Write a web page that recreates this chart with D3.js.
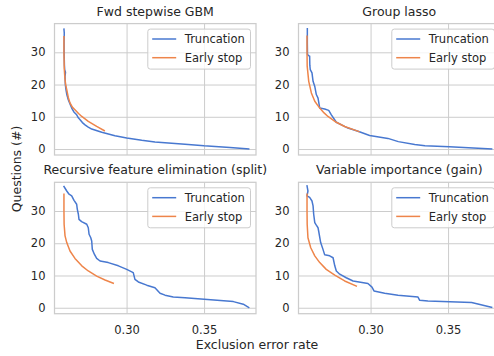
<!DOCTYPE html>
<html>
<head>
<meta charset="utf-8">
<script src="https://cdnjs.cloudflare.com/ajax/libs/d3/7.8.5/d3.min.js"></script>
<style>
body{margin:0;background:#fff;}
text{font-family:"DejaVu Sans",sans-serif;fill:#262626;}
</style>
</head>
<body>
<script>
var width = 494, height = 356;

var titles = ['Fwd stepwise GBM','Group lasso','Recursive feature elimination (split)','Variable importance (gain)'];
var seriesNames = ['Truncation','Early stop'];
var colors = ['#4878d0','#ee854a'];
var xTicks = [0.30,0.35];
var yTicks = [0,10,20,30];
var xDomain = [0.2535,0.3835];
var yDomain = [-1.85,38.9];

// [exclusion error rate, questions]
var gbmTrunc = [[0.2596,37.2],[0.2598,36.0],[0.2597,33.0],[0.2597,30.0],[0.2599,26.0],[0.2601,24.5],[0.2606,23.8],[0.2603,22.5],[0.2605,20.0],[0.2609,18.4],[0.2614,17.0],[0.2624,15.3],[0.2635,14.0],[0.2646,12.7],[0.2660,11.5],[0.2678,10.6],[0.2690,9.6],[0.2700,9.1],[0.2715,8.2],[0.2732,7.5],[0.2750,6.9],[0.2775,6.2],[0.2840,5.2],[0.2925,4.1],[0.3001,3.4],[0.3098,2.7],[0.3183,2.2],[0.3377,1.5],[0.3500,1.0],[0.3667,0.5],[0.3788,0.0]];
var gbmEarly = [[0.2596,34.8],[0.2596,30.0],[0.2598,25.0],[0.2602,22.0],[0.2607,20.0],[0.2614,18.4],[0.2624,16.0],[0.2635,14.3],[0.2650,13.0],[0.2667,12.2],[0.2690,11.0],[0.2711,10.1],[0.2753,8.6],[0.2807,7.0],[0.2856,5.7]];

var lassoTrunc = [[0.2592,37.3],[0.2592,33.0],[0.2593,29.3],[0.2600,29.0],[0.2607,28.8],[0.2608,26.0],[0.2611,24.6],[0.2622,23.6],[0.2629,21.0],[0.2640,19.4],[0.2650,16.9],[0.2661,15.8],[0.2672,12.7],[0.2704,12.4],[0.2730,12.0],[0.2747,10.6],[0.2779,8.3],[0.2854,6.5],[0.2919,5.5],[0.2994,4.2],[0.3112,3.3],[0.3179,2.3],[0.3285,1.4],[0.3351,1.0],[0.3508,0.7],[0.3781,0.0]];
var lassoEarly = [[0.2590,35.0],[0.2590,30.0],[0.2591,25.7],[0.2601,21.0],[0.2618,17.4],[0.2640,14.8],[0.2672,12.7],[0.2700,11.2],[0.2725,10.1],[0.2779,8.3],[0.2833,7.0],[0.2908,5.7],[0.2925,5.4]];

var rfeTrunc = [[0.2596,37.6],[0.2614,36.2],[0.2629,35.2],[0.2646,34.7],[0.2661,33.3],[0.2678,32.1],[0.2682,30.6],[0.2689,29.0],[0.2693,27.4],[0.2710,26.7],[0.2743,25.9],[0.2753,24.8],[0.2758,22.8],[0.2769,21.7],[0.2775,20.7],[0.2779,18.1],[0.2792,16.6],[0.2807,15.3],[0.2829,14.5],[0.2882,14.0],[0.2947,13.0],[0.3001,11.9],[0.3043,10.9],[0.3054,8.8],[0.3076,8.0],[0.3130,7.0],[0.3183,6.2],[0.3216,4.5],[0.3248,3.9],[0.3301,3.3],[0.3377,3.1],[0.3501,2.6],[0.3689,1.9],[0.3753,1.1],[0.3788,0.1]];
var rfeEarly = [[0.2596,35.2],[0.2596,30.0],[0.2597,25.9],[0.2603,22.3],[0.2614,20.2],[0.2635,17.6],[0.2667,15.3],[0.2711,13.0],[0.2753,11.4],[0.2807,9.8],[0.2861,8.6],[0.2914,7.6]];

var gainTrunc = [[0.2590,37.8],[0.2596,36.2],[0.2590,34.7],[0.2607,34.2],[0.2622,33.1],[0.2629,31.6],[0.2633,29.0],[0.2640,26.4],[0.2650,25.6],[0.2661,24.8],[0.2665,23.8],[0.2678,20.2],[0.2693,18.1],[0.2704,16.4],[0.2736,16.1],[0.2758,15.5],[0.2769,13.0],[0.2779,11.4],[0.2801,10.4],[0.2843,9.3],[0.2887,8.3],[0.2983,7.5],[0.3009,6.4],[0.3022,5.2],[0.3091,4.5],[0.3177,3.9],[0.3306,3.3],[0.3317,2.3],[0.3370,2.1],[0.3652,1.6],[0.3781,0.1]];
var gainEarly = [[0.2590,35.2],[0.2590,30.0],[0.2591,25.9],[0.2596,21.7],[0.2614,18.6],[0.2640,16.1],[0.2672,14.0],[0.2714,11.9],[0.2769,10.1],[0.2833,8.3],[0.2908,6.7]];

var panels = [[gbmTrunc,gbmEarly],[lassoTrunc,lassoEarly],[rfeTrunc,rfeEarly],[gainTrunc,gainEarly]];

var colX = [[54.5,256],[298.5,500]];
var rowY = [[23.6,155],[182.3,313.7]];

var svg = d3.select('body').append('svg')
	.attr('width',width)
	.attr('height',height);

function drawPanel(i){
	var col = i%2, row = Math.floor(i/2);
	var left = colX[col][0], right = colX[col][1];
	var top = rowY[row][0], bottom = rowY[row][1];
	var w = right-left, h = bottom-top;

	var x = d3.scaleLinear().domain(xDomain).range([0,w]);
	var y = d3.scaleLinear().domain(yDomain).range([h,0]);

	var g = svg.append('g').attr('transform','translate('+left+','+top+')');

	g.append('clipPath').attr('id','clip'+i)
		.append('rect').attr('width',w).attr('height',h);

	var yAxis = d3.axisLeft(y).tickValues(yTicks).tickSize(-w).tickPadding(9);
	var xAxis = d3.axisBottom(x).tickValues(xTicks).tickSize(-h).tickPadding(12)
		.tickFormat(row==1 ? d3.format('.2f') : function(){return '';});

	var ya = g.append('g').call(yAxis);
	var xa = g.append('g').attr('transform','translate(0,'+h+')').call(xAxis);
	[ya,xa].forEach(function(a){
		a.select('.domain').remove();
		a.selectAll('line').attr('stroke','#cccccc').attr('stroke-width',1);
		a.selectAll('text').attr('font-size','11.5px').attr('fill','#262626')
			.style('font-family','"DejaVu Sans",sans-serif');
	});

	var line = d3.line().x(function(d){return x(d[0]);}).y(function(d){return y(d[1]);});

	panels[i].forEach(function(s,k){
		g.append('path').datum(s)
			.attr('d',line)
			.attr('clip-path','url(#clip'+i+')')
			.attr('fill','none')
			.attr('stroke',colors[k])
			.attr('stroke-width',1.5)
			.attr('stroke-linejoin','round')
			.attr('stroke-linecap','square');
	});

	g.append('rect').attr('width',w).attr('height',h)
		.attr('fill','none').attr('stroke','#cccccc').attr('stroke-width',1.25);

	g.append('text')
		.attr('x',w/2).attr('y',-8)
		.attr('text-anchor','middle')
		.attr('font-size','12.5px')
		.text(titles[i]);

	// legend
	var lw = 102.7, lh = 40;
	var leg = g.append('g').attr('transform','translate('+(w-5.5-lw)+',5.5)');
	leg.append('rect').attr('width',lw).attr('height',lh).attr('rx',2.5)
		.attr('fill','#fff').attr('fill-opacity',0.8)
		.attr('stroke','#cccccc').attr('stroke-width',1);
	seriesNames.forEach(function(n,k){
		var ly = 9.9 + k*18.7;
		leg.append('line').attr('x1',4.4).attr('x2',28.4).attr('y1',ly).attr('y2',ly)
			.attr('stroke',colors[k]).attr('stroke-width',1.5);
		leg.append('text').attr('x',37).attr('y',ly).attr('dy','0.36em')
			.attr('font-size','11.5px').text(n);
	});
}

for(var i=0;i<4;i++) drawPanel(i);

svg.append('text')
	.attr('transform','translate(20.8,169) rotate(-90)')
	.attr('text-anchor','middle')
	.attr('font-size','12.5px')
	.text('Questions (#)');

svg.append('text')
	.attr('x',257).attr('y',349)
	.attr('text-anchor','middle')
	.attr('font-size','12.5px')
	.text('Exclusion error rate');
</script>
</body>
</html>
